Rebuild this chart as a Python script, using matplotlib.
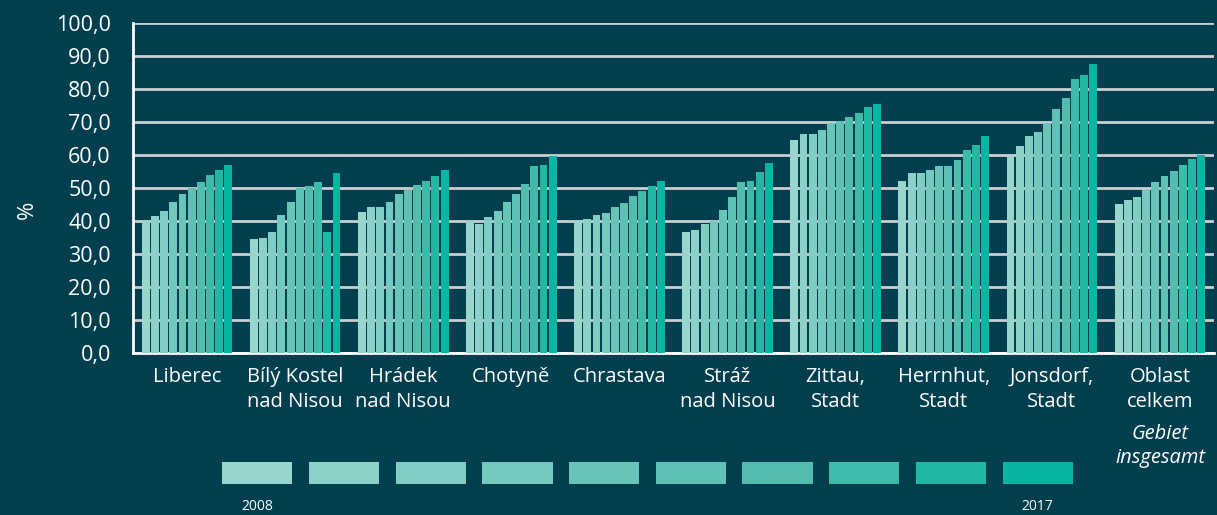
import numpy as np
import matplotlib
matplotlib.use('Agg')
import matplotlib.pyplot as plt
from matplotlib.ticker import FuncFormatter

# Kategorie (obce) a hodnoty v % pro roky 2008-2017
categories = ['Liberec', 'Bílý Kostel\nnad Nisou', 'Hrádek\nnad Nisou', 'Chotyně', 'Chrastava',
              'Stráž\nnad Nisou', 'Zittau,\nStadt', 'Herrnhut,\nStadt', 'Jonsdorf,\nStadt', 'Oblast\ncelkem']
years = ['2008', '2009', '2010', '2011', '2012', '2013', '2014', '2015', '2016', '2017']

liberec = [40.3, 41.5, 43.0, 45.8, 48.2, 49.9, 51.8, 53.9, 55.4, 56.9]
bily_kostel = [34.6, 34.9, 36.7, 41.8, 45.8, 49.9, 50.6, 51.8, 36.7, 54.5]
hradek = [42.7, 44.3, 44.3, 45.8, 48.2, 49.4, 50.9, 52.1, 53.6, 55.4]
chotyne = [39.9, 39.0, 41.2, 43.0, 45.8, 48.2, 51.2, 56.6, 56.9, 59.6]
chrastava = [40.3, 40.6, 41.8, 42.4, 44.3, 45.4, 47.6, 49.1, 50.6, 52.1]
straz = [36.7, 37.3, 39.1, 40.0, 43.3, 47.3, 51.8, 52.1, 54.8, 57.5]
zittau = [64.4, 66.5, 66.5, 67.7, 69.6, 70.2, 71.4, 72.6, 74.4, 75.6]
herrnhut = [52.2, 54.4, 54.4, 55.6, 56.8, 56.8, 58.6, 61.4, 62.9, 65.9]
jonsdorf = [59.8, 62.6, 65.9, 67.1, 69.7, 73.8, 77.2, 82.9, 84.1, 87.5]
oblast = [45.3, 46.5, 47.4, 49.5, 51.9, 53.5, 55.3, 57.1, 58.9, 60.1]

yticks = np.arange(0, 101, 10)

def main():
    bg = '#023f4e'
    colors = ['#97d5cd', '#8bd1c8', '#80cdc3', '#74c9be', '#69c4b8',
              '#5ec1b3', '#52bdad', '#3dbaa8', '#21b8a3', '#07b5a1']
    plt.rcParams['font.family'] = ['Open Sans', 'DejaVu Sans']

    W, H = 1217, 515
    fig = plt.figure(figsize=(W / 100, H / 100), dpi=100, facecolor=bg)
    ax = fig.add_axes([133 / W, (H - 353) / H, (1214 - 133) / W, (353 - 23) / H])
    ax.set_facecolor(bg)

    data = np.array([liberec, bily_kostel, hradek, chotyne, chrastava,
                     straz, zittau, herrnhut, jonsdorf, oblast])
    x = np.arange(len(categories))
    pitch = 0.085
    for j in range(len(years)):
        ax.bar(x + (j - 4.5) * pitch, data[:, j], width=pitch * 0.86,
               color=colors[j], zorder=3, linewidth=0)

    ax.set_xlim(-0.5, len(categories) - 0.5)
    ax.set_ylim(0, 100)
    ax.set_yticks(yticks)
    ax.yaxis.set_major_formatter(FuncFormatter(lambda v, p: f'{v:.1f}'.replace('.', ',')))
    ax.yaxis.grid(True, color='#c9cfd1', linewidth=2, zorder=1)
    ax.set_axisbelow(True)

    ax.set_xticks(x)
    ax.set_xticklabels(categories, linespacing=1.32)
    ax.tick_params(axis='x', length=0, pad=10, labelsize=14.5, colors='white')
    ax.tick_params(axis='y', length=0, pad=16, labelsize=15.5, colors='white')

    for s in ['top', 'right']:
        ax.spines[s].set_visible(False)
    for s in ['left', 'bottom']:
        ax.spines[s].set_color('white')
        ax.spines[s].set_linewidth(2)

    # italic german subtitle under last category
    ax.text(x[-1], -21.5, 'Gebiet\ninsgesamt', ha='center', va='top', color='white',
            fontsize=14.5, style='italic', linespacing=1.25)

    fig.text(27 / W, 1 - 210 / H, '%', rotation=90, color='white', fontsize=16,
             ha='center', va='center')

    # legend of years
    lax = fig.add_axes([214 / W, (H - 484) / H, 867 / W, 22 / H])
    lax.set_facecolor(bg)
    lax.bar(np.arange(len(years)), 1, width=0.81, color=colors, align='center')
    lax.set_xlim(-0.5, len(years) - 0.5)
    lax.set_ylim(0, 1)
    lax.axis('off')
    lax.text(0, -1.0, years[0], ha='center', va='center', color='white', fontsize=10)
    lax.text(len(years) - 1, -1.0, years[-1], ha='center', va='center', color='white', fontsize=10)

    fig.savefig('out.png', dpi=100, facecolor=bg)

if __name__ == "__main__":
    main()
